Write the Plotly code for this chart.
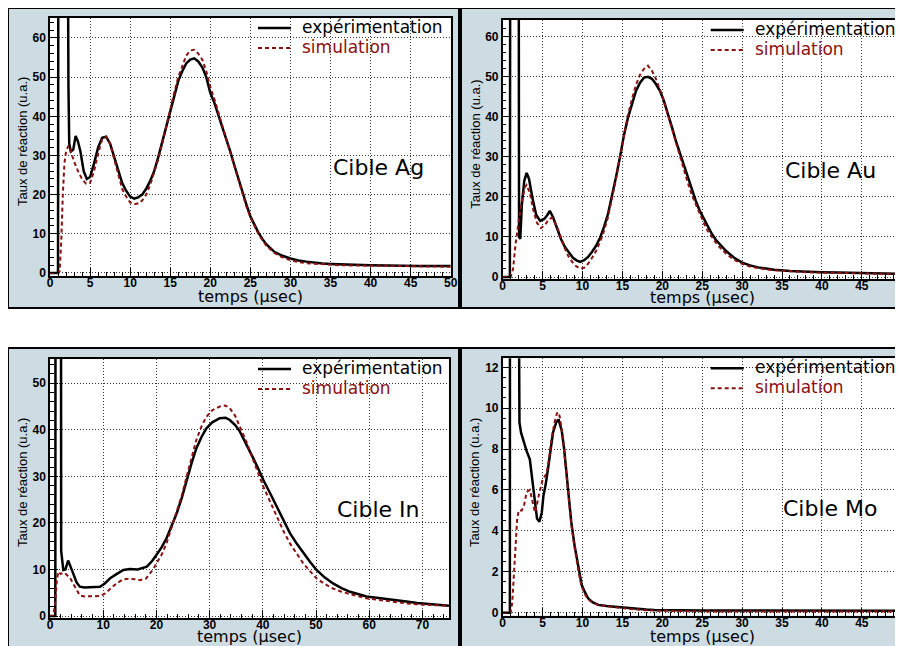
import plotly.graph_objects as go

# Cible Ag
t_ag_exp = [0, 0.5, 1.0, 1.05, 2.2, 2.3, 2.4, 2.6, 2.9, 3.2,
            3.5, 3.8, 4.2, 4.6, 5.0, 5.5, 6.0, 6.5, 7.0, 7.5,
            8.0, 8.5, 9.0, 9.5, 10.0, 10.5, 11.0, 11.5, 12.0, 12.5,
            13.0, 13.5, 14.0, 14.5, 15.0, 15.5, 16.0, 16.5, 17.0, 17.5,
            18.0, 18.5, 19.0, 19.5, 20.0, 20.5, 21.0, 21.5, 22.0, 22.5,
            23.0, 23.5, 24.0, 24.5, 25.0, 25.5, 26.0, 26.5, 27.0, 28,
            29, 30, 31, 32, 33, 34, 35, 36, 38, 40,
            42, 44, 46, 48, 50]
ag_exp = [0, 0, 0, 100, 100, 48, 33, 31, 31.5, 35,
          33.5, 31, 26, 24, 24.5, 28, 32, 34.5, 34.8, 33,
          29.5, 26, 23, 21, 19.5, 19, 19.3, 20, 21.5, 23.5,
          26, 29.5, 33.5, 37.5, 41.5, 45.5, 49, 51.5, 53.5, 54.5,
          54.8, 54, 52.5, 50, 46, 43.5, 40.5, 37, 34, 31,
          27.5, 24, 20.5, 17.5, 14.5, 12.3, 10.3, 8.7, 7.3, 5.4,
          4.4, 3.7, 3.2, 2.9, 2.6, 2.4, 2.3, 2.2, 2.1, 2.0,
          1.9, 1.9, 1.8, 1.8, 1.8]
t_ag_sim = [0, 1.0, 1.2, 1.4, 1.6, 1.8, 2.0, 2.3, 2.6, 3.0,
            3.5, 4.0, 4.5, 5.0, 5.5, 6.0, 6.5, 7.0, 7.5, 8.0,
            8.5, 9.0, 9.5, 10.0, 10.5, 11.0, 11.5, 12.0, 12.5, 13.0,
            13.5, 14.0, 14.5, 15.0, 15.5, 16.0, 16.5, 17.0, 17.5, 18.0,
            18.5, 19.0, 19.5, 20.0, 20.5, 21.0, 21.5, 22.0, 22.5, 23.0,
            23.5, 24.0, 24.5, 25.0, 25.5, 26.0, 26.5, 27.0, 28, 29,
            30, 31, 32, 34, 36, 38, 40, 42, 44, 46,
            48, 50]
ag_sim = [0, 0, 0.5, 8, 20, 28, 31, 32.5, 31, 28.5,
          26, 24, 22.8, 23, 26, 30.5, 34, 34.8, 33, 29,
          25, 21.5, 19.5, 18, 17.5, 17.8, 18.5, 20, 22.5, 25.5,
          29, 33, 37.5, 41.5, 46, 50, 53, 55.5, 56.8, 57,
          56, 54.5, 51.5, 47.5, 44.5, 41, 37.5, 34, 30.5, 27,
          23.5, 20, 17, 14.3, 12, 10, 8.4, 7, 5.1, 4.0,
          3.3, 2.8, 2.5, 2.2, 2.0, 1.9, 1.9, 1.8, 1.8, 1.7,
          1.7, 1.6]

# Cible Au
t_au_exp = [0, 0.9, 0.95, 2.0, 2.05, 2.2, 2.4, 2.7, 3.0, 3.3,
            3.7, 4.2, 4.7, 5.2, 5.6, 5.9, 6.3, 6.8, 7.3, 7.8,
            8.3, 8.8, 9.3, 9.7, 10.2, 10.7, 11.2, 11.7, 12.2, 12.7,
            13.2, 13.7, 14.2, 14.7, 15.2, 15.7, 16.2, 16.7, 17.2, 17.7,
            18.2, 18.7, 19.2, 19.7, 20.2, 20.7, 21.2, 21.7, 22.2, 22.7,
            23.2, 23.7, 24.2, 24.7, 25.2, 25.7, 26.2, 26.7, 27.2, 28,
            29, 30, 31, 32, 33, 34, 36, 38, 40, 42,
            44, 46, 48, 50]
au_exp = [0, 0, 100, 100, 10, 9.5, 18, 24, 26, 24.5,
          20, 15.5, 14, 14.5, 15.5, 16.5, 15, 12, 9.5, 7.5,
          6, 4.8, 4.1, 3.8, 4.2, 5, 6.3, 7.8, 9.8, 12.5,
          15.8, 20, 25, 30, 35.5, 39.8, 43.5, 46.5, 48.5, 49.8,
          50, 49.5, 48.2, 46.5, 44, 41, 37.5, 34, 31, 27.5,
          24.5, 21.5, 19, 16.5, 14.5, 12.5, 10.8, 9.3, 8.2, 6.5,
          4.8, 3.6, 2.9, 2.4, 2.1, 1.8, 1.5, 1.3, 1.2, 1.1,
          1.0, 0.9, 0.9, 0.8]
t_au_sim = [0, 1.0, 1.3, 1.6, 2.0, 2.4, 2.8, 3.0, 3.4, 3.8,
            4.3, 4.8, 5.3, 5.8, 6.2, 6.7, 7.2, 7.7, 8.2, 8.7,
            9.2, 9.7, 10.2, 10.7, 11.2, 11.7, 12.2, 12.7, 13.2, 13.7,
            14.2, 14.7, 15.2, 15.7, 16.2, 16.7, 17.2, 17.7, 18.2, 18.7,
            19.2, 19.7, 20.2, 20.7, 21.2, 21.7, 22.2, 22.7, 23.2, 23.7,
            24.2, 24.7, 25.2, 25.7, 26.2, 26.7, 27.2, 28, 29, 30,
            31, 32, 33, 34, 36, 38, 40, 42, 44, 46,
            48, 50]
au_sim = [0, 0, 2, 8, 14, 19, 22.5, 23, 21, 17,
          13.5, 12.2, 13, 14.5, 14.8, 13, 10.5, 7.5, 5.3, 3.8,
          2.7, 2.1, 2.3, 3.3, 4.8, 6.5, 8.8, 11.5, 15, 19.5,
          24.5, 30, 35.5, 40.5, 44.5, 48, 50.5, 52, 52.8, 51.5,
          49.5, 47, 44, 40.5, 37, 33.5, 30, 26.5, 23.5, 20.5,
          18, 15.5, 13.5, 11.5, 10, 8.6, 7.4, 5.8, 4.3, 3.3,
          2.6, 2.2, 1.9, 1.7, 1.4, 1.2, 1.1, 1.0, 0.9, 0.9,
          0.8, 0.8]

# Cible In
t_in_exp = [0, 0.5, 1.0, 1.05, 2.05, 2.1, 2.5, 2.9, 3.4, 3.9,
            4.4, 5.0, 5.6, 6.5, 7.5, 8.5, 9.4, 10.3, 11.3, 12.5,
            13.8, 15.0, 16.5, 18.2, 19.2, 20.0, 21.0, 21.9, 22.8, 23.8,
            24.8, 25.7, 26.6, 27.5, 28.5, 29.4, 30.5, 31.9, 33.0, 33.8,
            34.8, 35.7, 37.0, 38.2, 39.2, 40.1, 41.4, 42.6, 43.9, 45.1,
            46.4, 47.6, 48.9, 50.1, 51.6, 53.2, 54.8, 56.4, 58.0, 59.5,
            61.4, 63.2, 65.0, 67.0, 69.0, 71.0, 73.0, 75.0]
in_exp = [0, 0, 0, 100, 100, 14, 9.9, 10, 11.9, 10.5,
          8.8, 7.2, 6.3, 6.1, 6.2, 6.3, 6.3, 7.0, 8.1, 9.0,
          9.9, 10.1, 10.0, 10.6, 11.8, 13.1, 14.8, 16.7, 19.2, 22,
          25.5, 29.2, 32.8, 36, 38.5, 40.3, 41.6, 42.5, 42.6, 42.1,
          41.0, 39.6, 36.8, 33.9, 31.5, 29.2, 26.3, 23.5, 20.6, 17.8,
          15.5, 13.5, 11.6, 9.9, 8.3, 7.0, 6.0, 5.2, 4.7, 4.2,
          3.9, 3.6, 3.3, 3.1, 2.8, 2.6, 2.4, 2.2]
t_in_sim = [0, 0.6, 1.0, 1.3, 1.6, 2.0, 2.5, 3.0, 3.8, 4.6,
            5.6, 6.5, 7.5, 8.5, 9.4, 10.3, 11.3, 12.5, 13.8, 15.0,
            16.0, 16.9, 18.0, 18.8, 19.5, 20.0, 21.0, 21.9, 22.8, 23.8,
            24.8, 25.7, 26.6, 27.5, 28.5, 29.4, 30.5, 31.9, 33.0, 33.8,
            34.8, 35.7, 37.0, 38.2, 39.2, 40.1, 41.4, 42.6, 43.9, 45.1,
            46.4, 47.6, 48.9, 50.1, 51.6, 53.2, 54.8, 56.4, 58.0, 59.5,
            61.4, 63.2, 65.0, 67.0, 69.0, 71.0, 73.0, 75.0]
in_sim = [0, 0, 3, 8, 9.5, 9.0, 9.3, 9.0, 8.1, 6.3,
          4.4, 4.2, 4.2, 4.3, 4.3, 4.8, 5.9, 7.0, 7.9, 8.0,
          7.9, 7.7, 8.0, 9.2, 10.2, 11.3, 13.2, 15.6, 18.8, 22,
          26, 30, 34, 37.8, 40.8, 42.8, 44.2, 45, 45.2, 44.6,
          43, 40.7, 37.2, 33.5, 30.6, 27.8, 24.5, 21.3, 18.2, 15.6,
          13.3, 11.3, 9.6, 8.1, 6.9, 5.9, 5.2, 4.7, 4.2, 3.8,
          3.5, 3.2, 2.9, 2.7, 2.5, 2.4, 2.3, 2.2]

# Cible Mo
t_mo_exp = [0, 0.5, 0.9, 0.95, 2.05, 2.1, 2.3, 2.6, 3.0, 3.4,
            3.8, 4.1, 4.3, 4.6, 4.9, 5.1, 5.4, 5.7, 6.0, 6.3,
            6.7, 7.0, 7.4, 7.7, 8.0, 8.3, 8.6, 9.0, 9.3, 9.6,
            9.9, 10.3, 10.7, 11.3, 12, 13, 14, 15, 16, 17,
            18, 19, 20, 22, 25, 30, 35, 40, 45, 50]
mo_exp = [0, 0, 0, 100, 100, 9.3, 8.8, 8.4, 7.9, 7.5,
          6.2, 5.2, 4.6, 4.45, 4.9, 5.7, 6.3, 7.1, 8.0, 8.8,
          9.3, 9.45, 8.9, 8.0, 6.8, 5.6, 4.4, 3.3, 2.6, 1.9,
          1.35, 1.0, 0.7, 0.5, 0.38, 0.33, 0.29, 0.25, 0.21, 0.18,
          0.15, 0.13, 0.12, 0.11, 0.1, 0.1, 0.09, 0.09, 0.09, 0.09]
t_mo_sim = [0, 1.0, 1.2, 1.5, 1.8, 2.0, 2.4, 2.7, 3.0, 3.4,
            3.8, 4.05, 4.3, 4.5, 5.0, 5.5, 5.8, 6.1, 6.5, 6.8,
            7.0, 7.2, 7.6, 8.0, 8.3, 8.6, 9.0, 9.3, 9.6, 9.9,
            10.3, 10.7, 11.3, 12, 13, 14, 15, 16, 17, 18,
            19, 20, 22, 25, 30, 35, 40, 45, 50]
mo_sim = [0, 0, 0.5, 2.5, 4.5, 5.0, 5.0, 5.3, 5.9, 6.0,
          5.35, 4.9, 5.3, 5.7, 6.5, 6.8, 7.5, 8.45, 9.3, 9.75,
          9.8, 9.5, 8.3, 6.8, 5.5, 4.3, 3.2, 2.4, 1.8, 1.27,
          0.9, 0.65, 0.48, 0.37, 0.31, 0.27, 0.22, 0.18, 0.14, 0.12,
          0.1, 0.09, 0.07, 0.06, 0.05, 0.05, 0.05, 0.05, 0.05]

# the page puts the figure 8px in from the top-left corner (body margin),
# so all layout boxes below are in screen pixels and shifted back by OFF
OFF = 8
W, H = 903 - OFF, 646 - OFF
FRAME = "#cddce3"
RED = "#8b1010"
COMIC = "DejaVu Sans"

# plot area (left, top, right, bottom), grey frame and x title height, in screen pixels
panels = [
    dict(t_exp=t_ag_exp, exp=ag_exp, t_sim=t_ag_sim, sim=ag_sim, label="Cible Ag",
         plot=(50, 18, 450.7, 276), frame=(8, 8, 459, 308), ty=296,
         xr=[0, 50], yr=[-0.77, 65.1], xd=5, xm=1, yd=10, ym=2),
    dict(t_exp=t_au_exp, exp=au_exp, t_sim=t_au_sim, sim=au_sim, label="Cible Au",
         plot=(502.7, 20, 901.7, 279), frame=(461, 8, 940, 308), ty=297,
         xr=[0, 50], yr=[-0.5, 64.2], xd=5, xm=1, yd=10, ym=2),
    dict(t_exp=t_in_exp, exp=in_exp, t_sim=t_in_sim, sim=in_sim, label="Cible In",
         plot=(50, 359, 449, 618), frame=(8, 348, 459, 680), ty=636,
         xr=[0, 75], yr=[-0.43, 55.2], xd=10, xm=2, yd=10, ym=2),
    dict(t_exp=t_mo_exp, exp=mo_exp, t_sim=t_mo_sim, sim=mo_sim, label="Cible Mo",
         plot=(502.7, 358.3, 901.7, 615.5), frame=(461, 348, 940, 680), ty=636,
         xr=[0, 50], yr=[-0.14, 12.44], xd=5, xm=1, yd=2, ym=0.5),
]


def px(x):
    return (x - OFF) / W


def py(y):
    return 1 - (y - OFF) / H


def text(x, y, s, size, color="black", family=COMIC, **kw):
    return dict(xref="paper", yref="paper", x=px(x), y=py(y), text=s, showarrow=False,
                font=dict(family=family, size=size, color=color), **kw)


fig = go.Figure()
shapes = []
annotations = []
layout = {}

for i, p in enumerate(panels, start=1):
    sfx = "" if i == 1 else str(i)
    l, t, r, b = p["plot"]
    fl, ft, fr, fb = p["frame"]

    fig.add_trace(go.Scatter(
        x=p["t_exp"], y=p["exp"], mode="lines", name="expérimentation",
        line=dict(color="black", width=2.5), xaxis=f"x{sfx}", yaxis=f"y{sfx}",
        showlegend=False))
    fig.add_trace(go.Scatter(
        x=p["t_sim"], y=p["sim"], mode="lines", name="simulation",
        line=dict(color=RED, width=2, dash="4px,3px"), xaxis=f"x{sfx}", yaxis=f"y{sfx}",
        showlegend=False))

    shapes.append(dict(type="rect", xref="paper", yref="paper", layer="below",
                       x0=px(fl), x1=px(fr), y0=py(fb), y1=py(ft),
                       fillcolor=FRAME, line=dict(color="black", width=2)))
    shapes.append(dict(type="rect", xref="paper", yref="paper", layer="below",
                       x0=px(l), x1=px(r), y0=py(b), y1=py(t),
                       fillcolor="white", line=dict(width=0)))

    common = dict(showline=True, linecolor="black", linewidth=1.5, mirror=True,
                  showgrid=True, gridcolor="#333", griddash="1px,2px", gridwidth=1,
                  zeroline=False, ticks="inside", ticklen=8, tickcolor="black",
                  automargin=False, ticklabeloverflow="allow",
                  tickfont=dict(family="Liberation Sans", size=12, color="black", weight=700))
    layout[f"xaxis{sfx}"] = dict(
        common, domain=[px(l), px(r)], range=p["xr"], dtick=p["xd"], tick0=0,
        anchor=f"y{sfx}", ticklabelstandoff=-5,
        minor=dict(ticks="inside", ticklen=4, dtick=p["xm"], tickcolor="black", showgrid=False))
    layout[f"yaxis{sfx}"] = dict(
        common, domain=[py(b), py(t)], range=p["yr"], dtick=p["yd"], tick0=0,
        anchor=f"x{sfx}",
        minor=dict(ticks="inside", ticklen=4, dtick=p["ym"], tickcolor="black", showgrid=False))

    # legend drawn by hand, as in the original ROOT canvas
    lx0, lx1 = l + 208, l + 241
    shapes.append(dict(type="line", xref="paper", yref="paper", x0=px(lx0), x1=px(lx1),
                       y0=py(t + 10), y1=py(t + 10), line=dict(color="black", width=2.5)))
    shapes.append(dict(type="line", xref="paper", yref="paper", x0=px(lx0), x1=px(lx1),
                       y0=py(t + 30), y1=py(t + 30),
                       line=dict(color=RED, width=2, dash="4px,3px")))
    annotations.append(text(l + 250, t + 9, "expérimentation", 17,
                            xanchor="left", yanchor="middle"))
    annotations.append(text(l + 250, t + 29, "simulation", 17, color=RED,
                            xanchor="left", yanchor="middle"))

    annotations.append(text(l + 328, t + 150, p["label"], 22,
                            xanchor="center", yanchor="middle"))
    annotations.append(text((l + r) / 2, p["ty"], "temps (μsec)", 16,
                            xanchor="center", yanchor="middle"))
    annotations.append(text(l - 28, t + 124, "Taux de réaction (u.a.)", 13,
                            family="Liberation Sans", textangle=-90,
                            xanchor="center", yanchor="middle"))

fig.update_layout(
    width=W, height=H, margin=dict(l=0, r=0, t=0, b=0),
    paper_bgcolor="white", plot_bgcolor="rgba(0,0,0,0)",
    shapes=shapes, annotations=annotations, **layout)

fig.write_html("out.html")
